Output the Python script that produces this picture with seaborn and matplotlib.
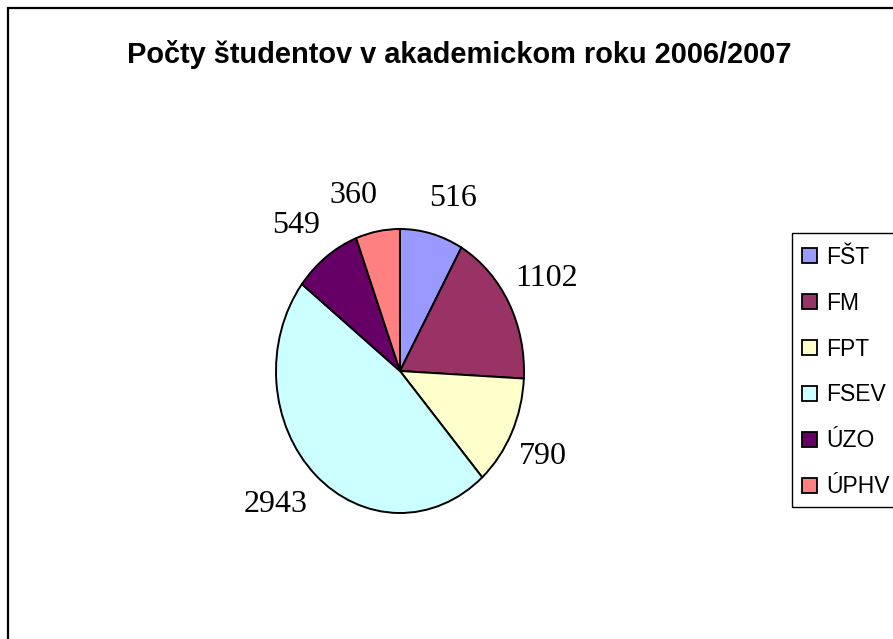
import numpy as np
import matplotlib
matplotlib.use("Agg")
import matplotlib.pyplot as plt
import matplotlib.patches as mpatches
import matplotlib.transforms as mtransforms
import seaborn as sns

# ---- data ----
categories = ["FŠT", "FM", "FPT", "FSEV", "ÚZO", "ÚPHV"]
students = [516, 1102, 790, 2943, 549, 360]
colors = ["#9999FF", "#993366", "#FFFFCC", "#CCFFFF", "#660066", "#FF8080"]
title = "Počty študentov v akademickom roku 2006/2007"

sns.set_theme(style="white")
plt.rcParams["font.family"] = ["Liberation Sans", "DejaVu Sans"]
plt.rcParams["text.color"] = "black"

W, H = 893, 639
fig = plt.figure(figsize=(W / 100, H / 100), dpi=100)
fig.patch.set_facecolor("white")

# outer chart frame (left & top visible, right/bottom run off the image)
frame = mpatches.Rectangle((8 / W, -0.05), 1.2, 1 - 8 / H + 0.05,
                           transform=fig.transFigure, fill=False,
                           edgecolor="black", linewidth=1.6)
fig.patches.append(frame)

# title
fig.text(459 / W, 1 - 63 / H, title, ha="center", va="baseline", color="black",
         fontsize=20.9, fontweight="bold", family=["Liberation Sans", "DejaVu Sans"])

# pie axes (elliptical pie: stretched vertically)
px0, px1, py0, py1 = 276, 524, 229, 513
ax = fig.add_axes([px0 / W, 1 - py1 / H, (px1 - px0) / W, (py1 - py0) / H])
wedges, _ = ax.pie(students, colors=colors, startangle=90, counterclock=False,
                   wedgeprops=dict(edgecolor="black", linewidth=1.4))
ax.set_aspect("auto")
ax.set_xlim(-1, 1)
ax.set_ylim(-1, 1)
ax.axis("off")

# data labels positioned outside the wedges
for w, v in zip(wedges, students):
    mid = np.deg2rad((w.theta1 + w.theta2) / 2)
    cx, cy = np.cos(mid), np.sin(mid)
    d = 1.15
    ha = "left" if cx > 0 else "right"
    va = "bottom" if cy > 0 else "top"
    dx = -6 if cx > 0 else 2
    tr = ax.transData + mtransforms.ScaledTranslation(dx / 100, 0, fig.dpi_scale_trans)
    ax.text(d * cx * 0.97, d * cy, str(v), ha=ha, va=va, fontsize=23, color="black",
            family=["Liberation Serif", "DejaVu Serif"], clip_on=False, transform=tr)

# legend box
lg_top, lg_bot, lg_left = 233, 507, 792
box = mpatches.Rectangle((lg_left / W, 1 - lg_bot / H), 1.0, (lg_bot - lg_top) / H,
                         transform=fig.transFigure, fill=False,
                         edgecolor="black", linewidth=1.0)
fig.patches.append(box)

handles = [mpatches.Patch(facecolor=c, edgecolor="black", linewidth=1.3, label=l)
           for c, l in zip(colors, categories)]
leg = fig.legend(handles=handles, loc="center left",
                 bbox_to_anchor=(802 / W, 1 - 372 / H),
                 frameon=False, fontsize=16.5,
                 handlelength=0.66, handleheight=0.66, handletextpad=0.38,
                 labelspacing=1.0, borderpad=0, borderaxespad=0)
for t in leg.get_texts():
    t.set_color("black")

fig.savefig("out.png", dpi=100, facecolor="white")
